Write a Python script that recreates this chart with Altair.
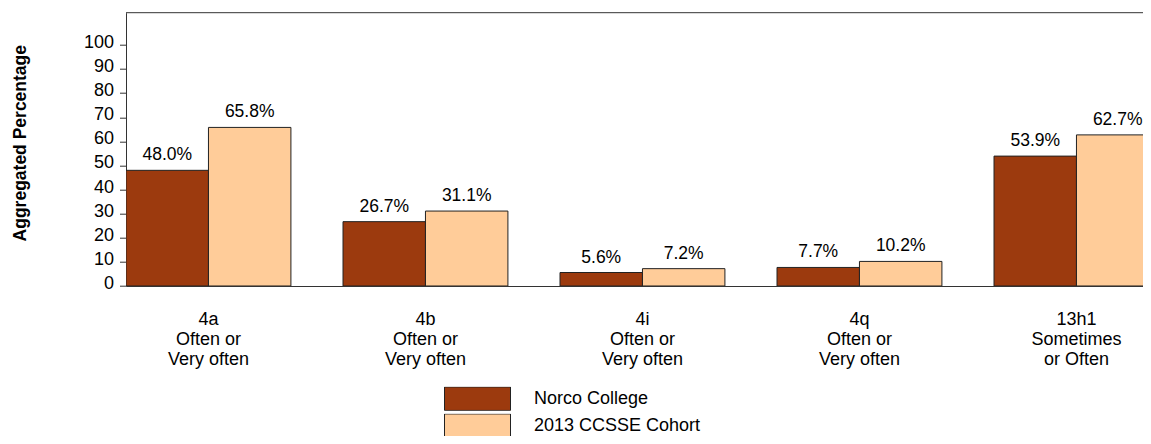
import altair as alt
import pandas as pd

categories = [
    "4a\nOften or\nVery often",
    "4b\nOften or\nVery often",
    "4i\nOften or\nVery often",
    "4q\nOften or\nVery often",
    "13h1\nSometimes\nor Often",
]
series = ["Norco College", "2013 CCSSE Cohort"]
norco = [48.0, 26.7, 5.6, 7.7, 53.9]
cohort = [65.8, 31.1, 7.2, 10.2, 62.7]
colors = ["#9C3A0E", "#FFCC99"]
y_ticks = [0, 10, 20, 30, 40, 50, 60, 70, 80, 90, 100]
y_max = 113.4

rows = []
for i, c in enumerate(categories):
    rows.append({"category": c, "series": series[0], "value": norco[i]})
    rows.append({"category": c, "series": series[1], "value": cohort[i]})
df = pd.DataFrame(rows)
df["label"] = df["value"].map(lambda v: f"{v:.1f}%")

FONT = "Liberation Sans"
STEP = 217
X_RANGE = STEP * (len(categories) - 0.24)

y_scale = alt.Scale(domain=[0, y_max], nice=False)
y_axis = alt.Axis(
    values=y_ticks,
    grid=False,
    labelOverlap=False,
    title="Aggregated Percentage",
    titleFontSize=17.5,
    titleFontWeight="bold",
    titleAngle=270,
    titleX=-106,
    titleY=130,
    titleAlign="center",
    titleBaseline="middle",
    titleColor="#000",
    titleFont=FONT,
    labelFontSize=18,
    labelFont=FONT,
    labelColor="#000",
    labelPadding=6,
    labelOffset=-2.5,
    tickSize=6.5,
    tickColor="#333",
    domainColor="#333",
)

base = alt.Chart(df).encode(
    x=alt.X(
        "category:N",
        sort=categories,
        scale=alt.Scale(paddingInner=0.24, paddingOuter=0, range=[0, X_RANGE]),
        axis=alt.Axis(
            title=None,
            labelAngle=0,
            ticks=False,
            labelExpr="split(datum.label, '\\n')",
            labelFontSize=18,
            labelLineHeight=20,
            labelPadding=24,
            labelBaseline="top",
            labelColor="#000",
            domainColor="#333",
            labelFont=FONT,
        ),
    ),
    xOffset=alt.XOffset("series:N", sort=series, scale=alt.Scale(paddingInner=0, paddingOuter=0)),
    y=alt.Y("value:Q", scale=y_scale, axis=y_axis),
)

bars = base.mark_bar(stroke="#222", strokeWidth=1, clip=True).encode(
    color=alt.Color(
        "series:N",
        sort=series,
        scale=alt.Scale(domain=series, range=colors),
        legend=alt.Legend(
            title=None,
            orient="none",
            legendX=318,
            legendY=374,
            symbolType="M-1,-0.356L1,-0.356L1,0.356L-1,0.356Z",
            symbolSize=4356,
            symbolStrokeColor="#222",
            symbolStrokeWidth=1,
            symbolOpacity=1,
            clipHeight=24,
            rowPadding=3,
            labelFontSize=18,
            labelFont=FONT,
            labelColor="#000",
            labelOffset=23,
            labelLimit=0,
            padding=0,
        ),
    )
)

labels = base.mark_text(baseline="alphabetic", dy=-10, fontSize=17.5, font=FONT, color="#000").encode(
    text="label:N"
)

top_border = (
    alt.Chart(pd.DataFrame({"value": [y_max]}))
    .mark_rule(color="#333", strokeWidth=1)
    .encode(y=alt.Y("value:Q", scale=y_scale, axis=y_axis))
)

chart = (
    alt.layer(bars, labels, top_border)
    .properties(
        width=1017,
        height=273.3,
        autosize=alt.AutoSizeParams(type="none"),
        padding={"left": 118, "top": 4.7, "right": 0, "bottom": 150},
    )
    .configure(font=FONT)
    .configure_view(stroke=None)
)

chart.save("out.html", embed_options={"renderer": "svg", "actions": False})
